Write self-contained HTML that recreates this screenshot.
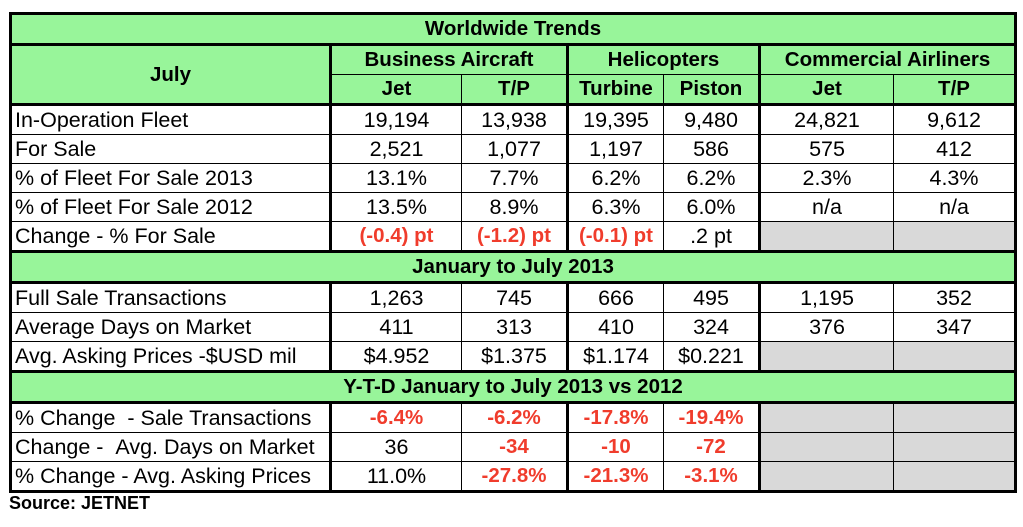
<!DOCTYPE html>
<html><head><meta charset="utf-8"><style>
body{margin:0;background:#fff;width:1023px;height:527px;overflow:hidden;font-family:"Liberation Sans",Arial,sans-serif}
table{position:absolute;left:9px;top:12px;border-collapse:collapse;table-layout:fixed;width:1005px;border:3px solid #000}
td{height:28px;padding:0;border:1px solid #000;text-align:center;font-size:21.5px;white-space:nowrap;overflow:hidden;line-height:26px}
td.l{text-align:left;padding-left:3px}
.g{background:#98f59a;font-weight:bold;font-size:20.5px}
.r{color:#f03c2c;font-weight:bold;font-size:20.5px}
.x{background:#d9d9d9}
.tb{border-bottom:3px solid #000}
.tl{border-left:3px solid #000}
.src{position:absolute;left:9px;top:493px;font-weight:bold;font-size:18px}
</style></head><body>
<table>
<colgroup><col style="width:320px"><col style="width:131px"><col style="width:106px"><col style="width:96px"><col style="width:96px"><col style="width:134px"><col style="width:122px"></colgroup>
<tr><td class="g tb" colspan="7">Worldwide Trends</td></tr>
<tr><td class="g tb" rowspan="2" style="border-right:3px solid #000">July</td><td class="g" colspan="2">Business Aircraft</td><td class="g tl" colspan="2">Helicopters</td><td class="g tl" colspan="2">Commercial Airliners</td></tr>
<tr><td class="g tb">Jet</td><td class="g tb">T/P</td><td class="g tb tl">Turbine</td><td class="g tb">Piston</td><td class="g tb tl">Jet</td><td class="g tb">T/P</td></tr>
<tr><td class="l" style="border-right:3px solid #000">In-Operation Fleet</td><td>19,194</td><td>13,938</td><td class="tl">19,395</td><td>9,480</td><td class="tl">24,821</td><td>9,612</td></tr>
<tr><td class="l" style="border-right:3px solid #000">For Sale</td><td>2,521</td><td>1,077</td><td class="tl">1,197</td><td>586</td><td class="tl">575</td><td>412</td></tr>
<tr><td class="l" style="border-right:3px solid #000">% of Fleet For Sale 2013</td><td>13.1%</td><td>7.7%</td><td class="tl">6.2%</td><td>6.2%</td><td class="tl">2.3%</td><td>4.3%</td></tr>
<tr><td class="l" style="border-right:3px solid #000">% of Fleet For Sale 2012</td><td>13.5%</td><td>8.9%</td><td class="tl">6.3%</td><td>6.0%</td><td class="tl">n/a</td><td>n/a</td></tr>
<tr><td class="l tb" style="border-right:3px solid #000">Change - % For Sale</td><td class="r tb">(-0.4) pt</td><td class="r tb">(-1.2) pt</td><td class="r tb tl">(-0.1) pt</td><td class="tb">.2 pt</td><td class="x tb tl"></td><td class="x tb"></td></tr>
<tr><td class="g tb" colspan="7">January to July 2013</td></tr>
<tr><td class="l" style="border-right:3px solid #000">Full Sale Transactions</td><td>1,263</td><td>745</td><td class="tl">666</td><td>495</td><td class="tl">1,195</td><td>352</td></tr>
<tr><td class="l" style="border-right:3px solid #000">Average Days on Market</td><td>411</td><td>313</td><td class="tl">410</td><td>324</td><td class="tl">376</td><td>347</td></tr>
<tr><td class="l tb" style="border-right:3px solid #000">Avg. Asking Prices -$USD mil</td><td class="tb">$4.952</td><td class="tb">$1.375</td><td class="tb tl">$1.174</td><td class="tb">$0.221</td><td class="x tb tl"></td><td class="x tb"></td></tr>
<tr><td class="g tb" colspan="7">Y-T-D January to July 2013 vs 2012</td></tr>
<tr><td class="l" style="border-right:3px solid #000">% Change &nbsp;- Sale Transactions</td><td class="r">-6.4%</td><td class="r">-6.2%</td><td class="r tl">-17.8%</td><td class="r">-19.4%</td><td class="x tl"></td><td class="x"></td></tr>
<tr><td class="l" style="border-right:3px solid #000">Change - &nbsp;Avg. Days on Market</td><td>36</td><td class="r">-34</td><td class="r tl">-10</td><td class="r">-72</td><td class="x tl"></td><td class="x"></td></tr>
<tr><td class="l" style="border-right:3px solid #000">% Change - Avg. Asking Prices</td><td>11.0%</td><td class="r">-27.8%</td><td class="r tl">-21.3%</td><td class="r">-3.1%</td><td class="x tl"></td><td class="x"></td></tr>
</table>
<div class="src">Source: JETNET</div>
</body></html>
